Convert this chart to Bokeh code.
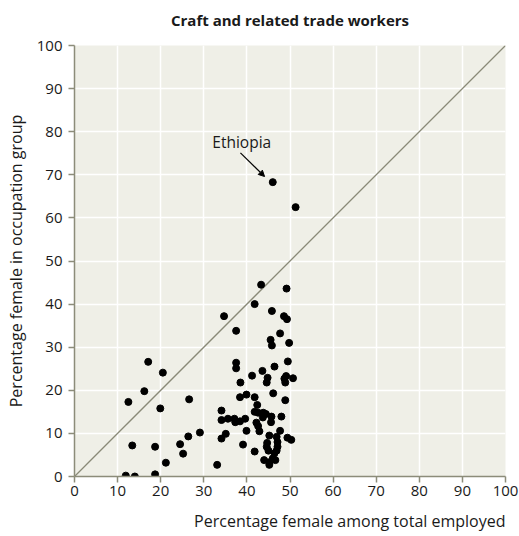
from bokeh.plotting import figure
from bokeh.models import Range1d, Label, Arrow, NormalHead, FixedTicker, Title, LinearAxis
from bokeh.embed import file_html
from bokeh.resources import INLINE

# Percentage female among total employed (x) vs percentage female in occupation group (y)
female_total = [
    46.0, 51.3, 43.3, 49.2, 41.8, 45.8, 34.7, 48.6, 49.3, 37.5, 47.7, 45.5, 45.8, 49.8,
    37.5, 37.5, 43.6, 46.4, 49.5, 41.2, 44.8, 44.6, 49.1, 48.7, 48.9, 50.7, 38.5, 46.1,
    39.9, 41.8, 38.4, 48.9, 42.4, 41.8, 42.6, 43.8, 44.4, 45.7, 48.0, 43.7, 39.6, 34.1,
    34.1, 35.6, 37.1, 37.3, 38.4, 42.2, 42.6, 45.6, 39.9, 42.9, 47.7, 45.2, 46.9, 49.4,
    50.3, 39.1, 44.7, 44.6, 47.1, 47.1, 46.9, 41.8, 45.0, 46.4, 44.0, 45.2, 46.0, 46.6,
    45.2, 29.1, 35.1, 34.1, 33.1, 17.1, 20.5, 16.2, 12.5, 19.9, 26.6, 13.4, 18.7, 24.5,
    26.4, 25.2, 21.2, 11.9, 14.0, 18.7,
]
female_occupation = [
    68.3, 62.5, 44.5, 43.6, 40.0, 38.4, 37.2, 37.2, 36.5, 33.8, 33.2, 31.7, 30.4, 31.0,
    26.4, 25.1, 24.5, 25.5, 26.7, 23.4, 22.9, 21.8, 23.3, 22.7, 21.8, 22.8, 21.8, 19.3,
    19.0, 18.4, 18.4, 17.7, 16.6, 15.0, 14.8, 14.8, 14.5, 13.9, 13.9, 13.7, 13.4, 15.3,
    13.1, 13.4, 13.4, 12.6, 12.8, 12.5, 11.7, 12.6, 10.6, 10.5, 10.6, 9.5, 9.2, 9.0,
    8.5, 7.4, 7.8, 6.9, 8.0, 6.9, 6.0, 5.8, 6.0, 5.4, 3.8, 3.3, 4.2, 3.8,
    2.7, 10.2, 9.9, 8.8, 2.7, 26.6, 24.1, 19.8, 17.3, 15.8, 17.9, 7.2, 6.9, 7.5,
    9.3, 5.3, 3.2, 0.2, 0.0, 0.5,
]
reference_line = [0, 100]
tick_values = [0, 10, 20, 30, 40, 50, 60, 70, 80, 90, 100]
chart_title = "Craft and related trade workers"
x_label = "Percentage female among total employed"
y_label = "Percentage female in occupation group"
annotation_text = "Ethiopia"
annotation_point = (46.0, 68.3)

FONT = "Open Sans"
AXIS_COLOR = "#8c8c7a"
TEXT_COLOR = "#1a1a1a"

p = figure(
    width=519, height=536, title=None,
    x_range=Range1d(0, 100), y_range=Range1d(0, 100),
    output_backend="svg", toolbar_location=None,
    min_border_left=74, min_border_right=14, min_border_top=45, min_border_bottom=60,
)
p.background_fill_color = "#efefe7"
p.border_fill_color = "white"
p.outline_line_color = None

xa = p.xaxis[0]
ya = p.yaxis[0]
for ax in (xa, ya):
    ax.ticker = FixedTicker(ticks=tick_values)
    ax.axis_line_color = AXIS_COLOR
    ax.axis_line_width = 1.5
    ax.major_tick_line_color = AXIS_COLOR
    ax.major_tick_line_width = 1.5
    ax.major_tick_out = 6
    ax.major_tick_in = 0
    ax.minor_tick_line_color = None
    ax.major_label_text_font = FONT
    ax.major_label_text_font_size = "15px"
    ax.major_label_text_color = TEXT_COLOR

xa.major_label_standoff = 3
# tiny blank label only reserves a little space below the tick labels
xa.axis_label = " "
xa.axis_label_text_font_size = "1px"
xa.axis_label_standoff = 7

ya.major_label_standoff = 6
ya.axis_label = y_label
ya.axis_label_text_font = FONT
ya.axis_label_text_font_size = "16px"
ya.axis_label_text_font_style = "normal"
ya.axis_label_text_color = TEXT_COLOR
ya.axis_label_standoff = 7

# Chart title drawn as the label of an empty axis above the frame
top_axis = LinearAxis(ticker=FixedTicker(ticks=[]), axis_line_color=None,
                      major_tick_line_color=None, minor_tick_line_color=None,
                      major_tick_out=0, major_tick_in=0, minor_tick_out=0, minor_tick_in=0,
                      major_label_standoff=0,
                      axis_label=chart_title, axis_label_text_font=FONT,
                      axis_label_text_font_size="15px", axis_label_text_font_style="bold",
                      axis_label_text_color=TEXT_COLOR, axis_label_standoff=16)
p.add_layout(top_axis, "above")

p.add_layout(Title(text=x_label, align="right", vertical_align="top",
                   text_font=FONT, text_font_size="16px", text_font_style="normal",
                   text_color=TEXT_COLOR, offset=0, standoff=0), "below")

p.grid.grid_line_color = "white"
p.grid.grid_line_width = 1.5
p.xgrid.ticker = FixedTicker(ticks=tick_values)
p.ygrid.ticker = FixedTicker(ticks=tick_values)

p.line(reference_line, reference_line, line_color="#8a8a78", line_width=1.3)
p.scatter(female_total, female_occupation, size=7, fill_color="black", line_color="black")

p.add_layout(Label(x=38.8, y=77.5, text=annotation_text, text_align="center",
                   text_baseline="alphabetic", text_font=FONT, text_font_size="15.5px",
                   text_color=TEXT_COLOR))
p.add_layout(Arrow(x_start=38.5, y_start=75.1,
                   x_end=annotation_point[0] - 1.9, y_end=annotation_point[1] + 1.3,
                   line_color="black", line_width=1.2,
                   end=NormalHead(size=6, fill_color="black", line_color="black")))

open("out.html", "w").write(file_html(p, INLINE))
